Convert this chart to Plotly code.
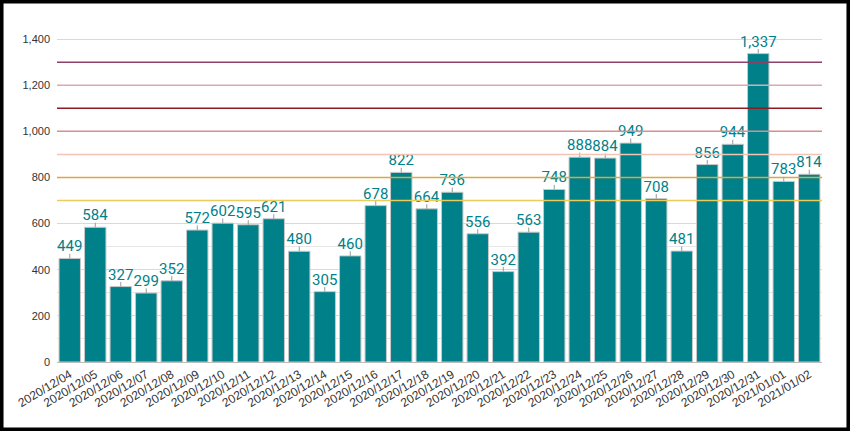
import plotly.graph_objects as go

dates = ['2020/12/04', '2020/12/05', '2020/12/06', '2020/12/07', '2020/12/08',
         '2020/12/09', '2020/12/10', '2020/12/11', '2020/12/12', '2020/12/13',
         '2020/12/14', '2020/12/15', '2020/12/16', '2020/12/17', '2020/12/18',
         '2020/12/19', '2020/12/20', '2020/12/21', '2020/12/22', '2020/12/23',
         '2020/12/24', '2020/12/25', '2020/12/26', '2020/12/27', '2020/12/28',
         '2020/12/29', '2020/12/30', '2020/12/31', '2021/01/01', '2021/01/02']
counts = [449, 584, 327, 299, 352, 572, 602, 595, 621, 480,
          305, 460, 678, 822, 664, 736, 556, 392, 563, 748,
          888, 884, 949, 708, 481, 856, 944, 1337, 783, 814]

# горизонтальные уровни-ориентиры
levels = [700, 800, 900, 1000, 1100, 1200, 1300]
level_colors = ['#EBCB5A', '#D9A93A', '#F3C4B6', '#D68E90', '#8E1B22', '#D9AAB4', '#8C4068']

W, H = 850, 431
ml, mr, mt, mb = 57, 28, 16, 69
pw, ph = W - ml - mr, H - mt - mb

layout = go.Layout(
    paper_bgcolor='white',
    plot_bgcolor='white',
    width=W,
    height=H,
    margin=dict(l=ml, r=mr, t=mt, b=mb),
    showlegend=False,
    bargap=0.16,
    font=dict(family='Liberation Sans, Arial', size=11, color='#333333'),
)

fig = go.Figure(layout=layout)

fig.add_trace(
    go.Bar(
        x=dates,
        y=counts,
        marker_color='#00818A',
        marker_line=dict(color='#C8C8C8', width=1),
        text=[f'{v:,}' for v in counts],
        textposition='outside',
        constraintext='none',
        cliponaxis=False,
        textfont=dict(family='Roboto', size=15, color='#00818A'),
        error_y=dict(type='constant', value=20, symmetric=False, valueminus=0,
                     color='#9A9A9A', thickness=1, width=0),
        hoverinfo='x+y',
    )
)

for lvl, col in zip(levels, level_colors):
    fig.add_shape(type='line', xref='paper', yref='y', x0=0, x1=1, y0=lvl, y1=lvl,
                  line=dict(color=col, width=1.5))

# чёрная рамка вокруг картинки
fig.add_shape(type='rect', xref='paper', yref='paper',
              x0=-ml / pw + 0.002, x1=1 + mr / pw - 0.002,
              y0=-mb / ph + 0.004, y1=1 + mt / ph - 0.004,
              line=dict(color='black', width=4))

fig.update_yaxes(
    range=[0, 1500],
    dtick=200,
    tickformat=',',
    showgrid=True,
    gridcolor='#D9D9D9',
    minor=dict(dtick=100, showgrid=True, gridcolor='#E6E6E6'),
    zeroline=False,
    ticks='',
    ticklabelstandoff=6,
)
fig.update_xaxes(
    tickangle=-31,
    tickfont=dict(size=12),
    showline=True,
    linecolor='#BDBDBD',
    ticks='',
)

fig.write_html('out.html',
               config={'displayModeBar': False},
               post_script="document.body.style.margin='0';document.body.style.overflow='hidden';")
